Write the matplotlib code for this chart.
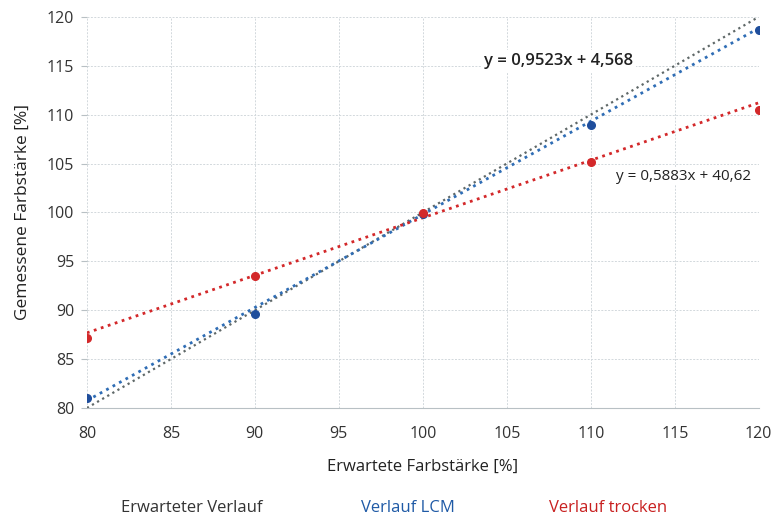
import matplotlib
matplotlib.use("Agg")

import matplotlib.pyplot as plt
import numpy as np

plt.rcParams["font.family"] = ["Open Sans", "DejaVu Sans"]

x_vals = [80, 90, 100, 110, 120]
lcm_vals = [81.0, 89.6, 99.8, 108.9, 118.7]
trocken_vals = [87.2, 93.5, 99.9, 105.2, 110.5]

# expected course and linear trend coefficients as printed
expected_x = [80, 120]
expected_y = [80, 120]
lcm_fit = (0.9523, 4.568)
trocken_fit = (0.5883, 40.62)

x_ticks = [80, 85, 90, 95, 100, 105, 110, 115, 120]
y_ticks = [80, 85, 90, 95, 100, 105, 110, 115, 120]

BLUE = "#1f4e9c"
BLUE_LINE = "#2f6db5"
RED = "#d3282a"
GRAY = "#5f6868"

fig = plt.figure(figsize=(7.83, 5.18), dpi=100)
ax = fig.add_axes([0.111, 0.2124, 0.858, 0.755])

fit_x = np.array([80, 120])
ax.plot(expected_x, expected_y, color=GRAY, linestyle=":", linewidth=1.6, zorder=2)
ax.plot(fit_x, lcm_fit[0] * fit_x + lcm_fit[1], color=BLUE_LINE, linestyle=":",
        linewidth=2.0, zorder=3)
ax.plot(fit_x, trocken_fit[0] * fit_x + trocken_fit[1], color=RED, linestyle=":",
        linewidth=2.0, zorder=3)
ax.plot(x_vals, lcm_vals, "o", color=BLUE, markersize=5.5, zorder=4)
ax.plot(x_vals, trocken_vals, "o", color=RED, markersize=5.5, zorder=4)

ax.set_xlim(80, 120)
ax.set_ylim(80, 120)
ax.set_xticks(x_ticks)
ax.set_yticks(y_ticks)
ax.grid(True, color="#d2d8dc", linestyle=(0, (2, 1.5)), linewidth=0.7)
ax.set_axisbelow(True)
for side in ["top", "right", "left"]:
    ax.spines[side].set_visible(False)
ax.spines["bottom"].set_color("#b8c0c4")
ax.tick_params(axis="x", length=0, pad=13, labelsize=11.5, colors="#333333")
ax.tick_params(axis="y", length=4, color="#b8c0c4", pad=5, labelsize=11.5,
               colors="#333333")

ax.set_xlabel("Erwartete Farbstärke [%]", fontsize=12, color="#222222", labelpad=12)
ax.set_ylabel("Gemessene Farbstärke [%]", fontsize=12.5, color="#222222", labelpad=12)

ax.text(108.1, 115.5, "y = 0,9523x + 4,568", fontsize=12, fontweight="semibold",
        color="#222222", ha="center", va="center", zorder=5,
        bbox=dict(facecolor="white", edgecolor="none", pad=2))
ax.text(115.5, 103.7, "y = 0,5883x + 40,62", fontsize=11, color="#222222",
        ha="center", va="center", zorder=5,
        bbox=dict(facecolor="white", edgecolor="none", pad=1))

fig.text(0.245, 0.02, "Erwarteter Verlauf", fontsize=12, color="#333333",
         ha="center", va="center")
fig.text(0.521, 0.02, "Verlauf LCM", fontsize=12, color="#1f5aa6",
         ha="center", va="center")
fig.text(0.776, 0.02, "Verlauf trocken", fontsize=12, color="#c82020",
         ha="center", va="center")

fig.savefig("out.png", dpi=100)
